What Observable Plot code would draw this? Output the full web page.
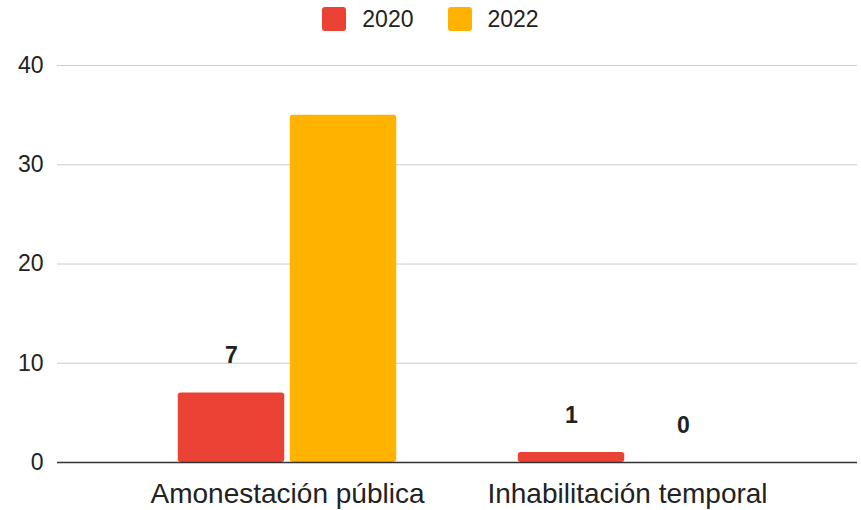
<!DOCTYPE html>
<html>
<head>
<meta charset="utf-8">
<script src="https://cdn.jsdelivr.net/npm/d3@7"></script>
<script src="https://cdn.jsdelivr.net/npm/@observablehq/plot@0.6"></script>
<style>
  body { margin: 0; background: #fff; font-family: "Liberation Sans", Arial, sans-serif; }
  #legend { height: 40px; box-sizing: border-box; padding-top: 7px; display: flex; justify-content: center; align-items: flex-start; }
  .item { display: flex; align-items: center; margin: 0 17px; }
  .swatch { width: 24px; height: 24px; border-radius: 3px; margin-right: 16px; }
  .item span { font-size: 23px; color: #222; line-height: 24px; }
</style>
</head>
<body>
<div id="legend"></div>
<div id="chart"></div>
<script>
const categories = ["Amonestación pública", "Inhabilitación temporal"];
const years = ["2020", "2022"];
const values2020 = [7, 1];
const values2022 = [35, 0];
const showLabel2020 = [true, true];
const showLabel2022 = [false, true];
const yTicks = [0, 10, 20, 30, 40];
const colors = ["#ea4335", "#ffb300"];

const legend = document.getElementById("legend");
years.forEach((y, i) => {
  const it = document.createElement("div");
  it.className = "item";
  it.innerHTML = `<div class="swatch" style="background:${colors[i]}"></div><span>${y}</span>`;
  legend.appendChild(it);
});

const rows2020 = categories.map((c, i) => ({category: c, year: years[0], value: values2020[i], show: showLabel2020[i]}));
const rows2022 = categories.map((c, i) => ({category: c, year: years[1], value: values2022[i], show: showLabel2022[i]}));

const chart = Plot.plot({
  width: 861,
  height: 470,
  marginTop: 25,
  marginBottom: 48,
  marginLeft: 57,
  marginRight: 4,
  style: {fontFamily: "Liberation Sans, Arial, sans-serif", background: "white", color: "#222"},
  x: {domain: categories, paddingInner: 0, paddingOuter: 0.1747},
  y: {domain: [0, 40]},
  marks: [
    Plot.ruleY(yTicks.slice(1), {stroke: "#cccccc", strokeWidth: 1}),
    Plot.axisY(yTicks, {tickSize: 0, tickPadding: 14, fontSize: 23, fill: "#222", label: null}),
    Plot.barY(rows2020, {x: "category", y: "value", fill: colors[0], insetLeft: 60.75, insetRight: 172.75, rx: 3}),
    Plot.barY(rows2022, {x: "category", y: "value", fill: colors[1], insetLeft: 172.75, insetRight: 60.75, rx: 3}),
    Plot.ruleY([0], {stroke: "#333333", strokeWidth: 1.5}),
    Plot.text(rows2020.filter(d => d.show), {x: "category", y: "value", text: d => String(d.value), dx: -56, dy: -37, fontWeight: "bold", fontSize: 23, fill: "#222"}),
    Plot.text(rows2022.filter(d => d.show), {x: "category", y: "value", text: d => String(d.value), dx: 56, dy: -37, fontWeight: "bold", fontSize: 23, fill: "#222"}),
    Plot.axisX({tickSize: 0, tickPadding: 21, fontSize: 28, fill: "#222", label: null})
  ]
});
document.getElementById("chart").appendChild(chart);
</script>
</body>
</html>
